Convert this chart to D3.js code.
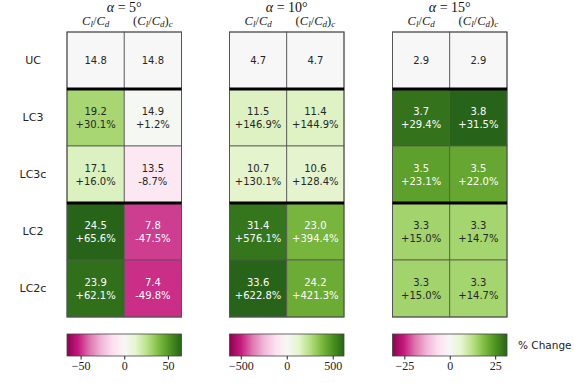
<!DOCTYPE html>
<html>
<head>
<meta charset="utf-8">
<script src="https://cdn.jsdelivr.net/npm/d3@7"></script>
<style>
  body { margin: 0; background: #fff; }
  svg { display: block; }
</style>
</head>
<body>
<svg id="chart"></svg>
<script>
// data
const configs = ["UC", "LC3", "LC3c", "LC2", "LC2c"];
const metrics = ["Cl/Cd", "(Cl/Cd)c"];
const angles = [5, 10, 15];

const ratio5 = [14.8, 19.2, 17.1, 24.5, 23.9];
const ratio5c = [14.8, 14.9, 13.5, 7.8, 7.4];
const pct5 = [0, 30.1, 16.0, 65.6, 62.1];
const pct5c = [0, 1.2, -8.7, -47.5, -49.8];

const ratio10 = [4.7, 11.5, 10.7, 31.4, 33.6];
const ratio10c = [4.7, 11.4, 10.6, 23.0, 24.2];
const pct10 = [0, 146.9, 130.1, 576.1, 622.8];
const pct10c = [0, 144.9, 128.4, 394.4, 421.3];

const ratio15 = [2.9, 3.7, 3.5, 3.3, 3.3];
const ratio15c = [2.9, 3.8, 3.5, 3.3, 3.3];
const pct15 = [0, 29.4, 23.1, 15.0, 15.0];
const pct15c = [0, 31.5, 22.0, 14.7, 14.7];

const cbTicks5 = [-50, 0, 50];
const cbTicks10 = [-500, 0, 500];
const cbTicks15 = [-25, 0, 25];

const panels = [
  { angle: angles[0], ratio: [ratio5, ratio5c], pct: [pct5, pct5c], ticks: cbTicks5 },
  { angle: angles[1], ratio: [ratio10, ratio10c], pct: [pct10, pct10c], ticks: cbTicks10 },
  { angle: angles[2], ratio: [ratio15, ratio15c], pct: [pct15, pct15c], ticks: cbTicks15 }
];

const width = 574, height = 383;
const panelX = [67, 229.5, 392.5];
const panelW = 114.5;
const gridTop = 32, gridH = 285;
const cbTop = 334, cbH = 22;
const serif = "'Liberation Serif', 'DejaVu Serif', serif";
const sans = "'DejaVu Sans', sans-serif";

// PiYG built from the 11 brewer colours, linear between them (like matplotlib)
const piyg = d3.scaleLinear()
  .domain(d3.range(11).map(i => i / 10))
  .range(d3.schemePiYG[11])
  .interpolate(d3.interpolateRgb)
  .clamp(true);

const svg = d3.select("#chart").attr("width", width).attr("height", height);
const defs = svg.append("defs");

const fmtTick = d => (d < 0 ? "\u2212" + Math.abs(d) : String(d));
const fmtPct = d => (d < 0 ? "-" : "+") + Math.abs(d).toFixed(1) + "%";

// row labels
const yRows = d3.scaleBand().domain(configs).range([gridTop, gridTop + gridH]);
svg.append("g").selectAll("text").data(configs).join("text")
  .attr("x", 33).attr("y", d => yRows(d) + yRows.bandwidth() / 2)
  .attr("text-anchor", "middle").attr("dominant-baseline", "central")
  .style("font-family", sans).style("font-size", "11px").attr("fill", "#222")
  .text(d => d);

panels.forEach((p, pi) => {
  const x0 = panelX[pi];
  const vmax = d3.max(p.pct.flat(), d => Math.abs(d));
  const color = v => piyg((v + vmax) / (2 * vmax));

  const xCols = d3.scaleBand().domain(metrics).range([x0, x0 + panelW]);
  const g = svg.append("g");

  // title
  const title = g.append("text")
    .attr("x", x0 + panelW / 2).attr("y", 12)
    .attr("text-anchor", "middle")
    .style("font-family", serif).style("font-size", "14px").attr("fill", "#111");
  title.append("tspan").style("font-style", "italic").text("\u03b1");
  title.append("tspan").text(" = " + p.angle + "\u00b0");

  // column labels
  metrics.forEach(m => {
    const t = g.append("text")
      .attr("x", xCols(m) + xCols.bandwidth() / 2).attr("y", 25)
      .attr("text-anchor", "middle")
      .style("font-family", serif).style("font-size", "12.5px").attr("fill", "#222");
    const corr = m.endsWith("c");
    if (corr) t.append("tspan").text("(");
    t.append("tspan").style("font-style", "italic").text("C");
    t.append("tspan").style("font-style", "italic").style("font-size", "9px").attr("dy", 2).text("l");
    t.append("tspan").attr("dy", -2).text("/");
    t.append("tspan").style("font-style", "italic").text("C");
    t.append("tspan").style("font-style", "italic").style("font-size", "9px").attr("dy", 2).text("d");
    if (corr) {
      t.append("tspan").attr("dy", -2).text(")");
      t.append("tspan").style("font-style", "italic").style("font-size", "9px").attr("dy", 2).text("c");
    }
  });

  // cells
  const cells = [];
  metrics.forEach((m, mi) => {
    configs.forEach((c, ci) => {
      cells.push({ m, c, ratio: p.ratio[mi][ci], pct: p.pct[mi][ci] });
    });
  });

  g.selectAll("rect.cell").data(cells).join("rect")
    .attr("class", "cell")
    .attr("x", d => xCols(d.m)).attr("y", d => yRows(d.c))
    .attr("width", xCols.bandwidth()).attr("height", yRows.bandwidth())
    .attr("fill", d => color(d.pct))
    .attr("stroke", "#555").attr("stroke-width", 0.8);

  const txt = g.selectAll("text.val").data(cells).join("text")
    .attr("class", "val")
    .attr("text-anchor", "middle")
    .style("font-family", sans).style("font-size", "10px")
    .attr("fill", d => Math.abs(d.pct) / vmax > 0.55 ? "#fff" : "#262626");
  txt.each(function(d) {
    const cx = xCols(d.m) + xCols.bandwidth() / 2;
    const cy = yRows(d.c) + yRows.bandwidth() / 2;
    const el = d3.select(this);
    if (d.c === "UC") {
      el.append("tspan").attr("x", cx).attr("y", cy + 3.5).text(d.ratio.toFixed(1));
    } else {
      el.append("tspan").attr("x", cx).attr("y", cy - 3).text(d.ratio.toFixed(1));
      el.append("tspan").attr("x", cx).attr("y", cy + 10.5).text(fmtPct(d.pct));
    }
  });

  // outer frame
  g.append("rect")
    .attr("x", x0).attr("y", gridTop).attr("width", panelW).attr("height", gridH)
    .attr("fill", "none").attr("stroke", "#555").attr("stroke-width", 1);

  // group separators
  ["LC3", "LC2"].forEach(c => {
    g.append("line")
      .attr("x1", x0).attr("x2", x0 + panelW)
      .attr("y1", yRows(c)).attr("y2", yRows(c))
      .attr("stroke", "#000").attr("stroke-width", 3);
  });

  // colorbar
  const gid = "grad" + pi;
  const grad = defs.append("linearGradient").attr("id", gid);
  d3.range(0, 1.0001, 0.05).forEach(t => {
    grad.append("stop").attr("offset", t).attr("stop-color", piyg(t));
  });
  const cbScale = d3.scaleLinear().domain([-vmax, vmax]).range([x0, x0 + panelW]);
  g.append("rect")
    .attr("x", x0).attr("y", cbTop).attr("width", panelW).attr("height", cbH)
    .attr("fill", `url(#${gid})`).attr("stroke", "#444").attr("stroke-width", 0.8);

  const axis = g.append("g")
    .attr("transform", `translate(0, ${cbTop + cbH})`)
    .call(d3.axisBottom(cbScale).tickValues(p.ticks).tickFormat(fmtTick).tickSize(3.5).tickPadding(2));
  axis.select(".domain").remove();
  axis.selectAll("line").attr("stroke", "#222");
  axis.selectAll("text")
    .style("font-family", serif).style("font-size", "12px").attr("fill", "#222");
});

svg.append("text")
  .attr("x", 518).attr("y", 349)
  .style("font-family", sans).style("font-size", "10.5px").attr("fill", "#222")
  .text("% Change");
</script>
</body>
</html>
